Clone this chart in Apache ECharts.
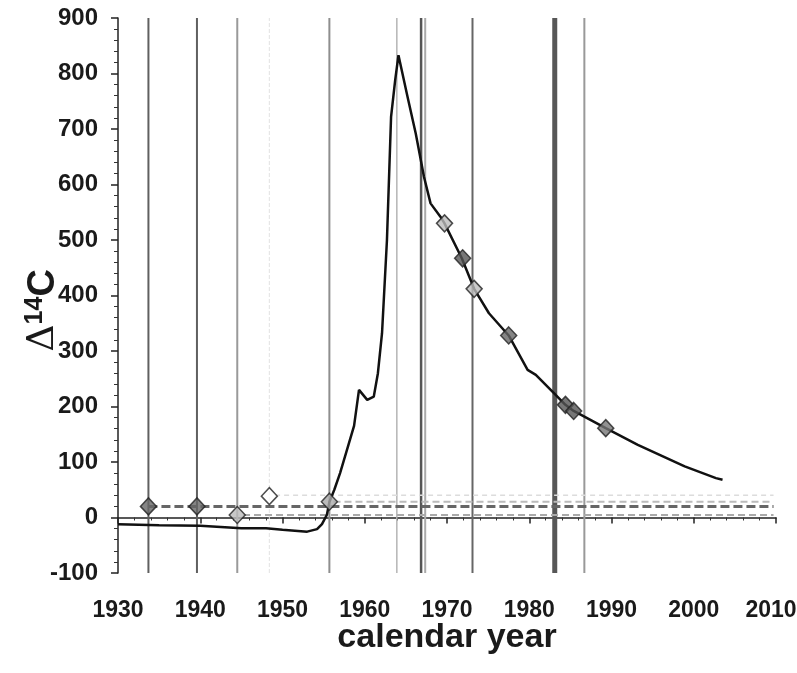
<!DOCTYPE html>
<html>
<head>
<meta charset="utf-8">
<script src="https://cdn.jsdelivr.net/npm/echarts@6/dist/echarts.min.js"></script>
<style>
html,body{margin:0;padding:0;background:#fff;}
#chart{width:797px;height:673px;}
</style>
</head>
<body>
<div id="chart"></div>
<script>
// ---- data ----
var curveYears = [1930, 1935, 1940, 1945, 1948, 1950, 1953, 1954.2, 1954.8, 1955.4, 1955.7, 1956.3, 1957.0, 1958.0, 1958.7, 1959.3, 1960.3, 1961.1, 1961.6, 1962.1, 1962.7, 1963.2, 1963.7, 1964.1, 1965.2, 1966.2, 1967.2, 1968.0, 1969.2, 1969.7, 1971.8, 1973.3, 1975.1, 1977.5, 1979.8, 1980.8, 1983.0, 1984.4, 1985.4, 1989.3, 1993.2, 1998.9, 2002.7, 2003.5];
var curveValues = [-12, -14, -15, -19.5, -19.5, -22, -25.5, -21, -12, 5, 28, 50, 80, 130, 165, 230, 212, 218, 260, 332, 500, 722, 788, 833, 758, 692, 614, 566, 542, 530, 467, 412, 368, 328, 266, 257, 224, 203, 192, 161, 131, 92, 71, 68];

var pointYears = [1933.7, 1939.6, 1944.5, 1948.4, 1955.7, 1969.7, 1971.9, 1973.3, 1977.5, 1984.4, 1985.4, 1989.3];
var pointValues = [20, 20, 4.5, 38.5, 28.5, 530, 467, 412, 328, 203, 192, 161];

var vlineYears = [1933.7, 1939.6, 1944.5, 1948.4, 1955.7, 1963.9, 1966.85, 1967.35, 1973.1, 1983.1, 1986.7];

var hlineStart = [1933.7, 1945.2, 1949.1, 1956.2];
var hlineValues = [20, 4.5, 40, 28.5];
var hlineEnd = 2009.7;

var xTicks = [1930, 1940, 1950, 1960, 1970, 1980, 1990, 2000, 2010];
var yTicks = [-100, 0, 100, 200, 300, 400, 500, 600, 700, 800, 900];

// ---- styles (kept separate from data) ----
var pointColors = ['#666', '#666', '#bbb', '#fff', '#aaa', '#bbb', '#555', '#bbb', '#666', '#555', '#555', '#777'];
var vlineColors = ['#606060', '#606060', '#9a9a9a', '#e2e2e2', '#8e8e8e', '#b5b5b5', '#555', '#aaa', '#666', '#575757', '#999'];
var vlineWidths = [2, 2, 2, 1, 2, 1.5, 2.5, 2, 2, 5, 2];
var vlineTypes = ['solid', 'solid', 'solid', 'dashed', 'solid', 'solid', 'solid', 'solid', 'solid', 'solid', 'solid'];
var hlineColors = ['#666', '#aaa', '#dcdcdc', '#bbb'];
var hlineWidths = [3, 2, 1.5, 2];
var hlineDash = [[9, 4], [7, 4], [5, 4], [7, 4]];

var FONT = 'Liberation Sans, Arial, sans-serif';
var xMin = xTicks[0], xMax = xTicks[xTicks.length - 1];
var yMin = yTicks[0], yMax = yTicks[yTicks.length - 1];

var series = [];

vlineYears.forEach(function (x, i) {
  series.push({
    type: 'line', silent: true, symbol: 'none', z: 1,
    data: [[x, yMin], [x, yMax]],
    lineStyle: { color: vlineColors[i], width: vlineWidths[i], type: vlineTypes[i] }
  });
});

hlineValues.forEach(function (v, i) {
  series.push({
    type: 'line', silent: true, symbol: 'none', z: 2,
    data: [[hlineStart[i], v], [hlineEnd, v]],
    lineStyle: { color: hlineColors[i], width: hlineWidths[i], type: hlineDash[i] }
  });
});

series.push({
  type: 'line', silent: true, symbol: 'none', z: 3,
  data: curveYears.map(function (x, i) { return [x, curveValues[i]]; }),
  lineStyle: { color: '#111', width: 2.5 }
});

series.push({
  type: 'scatter', silent: true, z: 4,
  symbol: 'diamond', symbolSize: [16, 17],
  data: pointYears.map(function (x, i) {
    return { value: [x, pointValues[i]], itemStyle: { color: pointColors[i], borderColor: '#222', borderWidth: 1.5 } };
  })
});

var chart = echarts.init(document.getElementById('chart'));
chart.setOption({
  animation: false,
  backgroundColor: '#fff',
  grid: { left: 118, right: 21, top: 18, bottom: 100, containLabel: false, outerBoundsMode: 'none' },
  xAxis: {
    type: 'value', min: xMin, max: xMax, interval: 10,
    name: 'calendar year', nameLocation: 'middle', nameGap: 48, nameMoveOverlap: false,
    nameTextStyle: { fontFamily: FONT, fontWeight: 'bold', fontSize: 34, color: '#1a1a1a' },
    axisLine: { show: true, lineStyle: { color: '#222', width: 1.5 } },
    axisTick: { show: true, length: 6, lineStyle: { color: '#222', width: 1.5 } },
    minorTick: { show: true, splitNumber: 5, length: 3, lineStyle: { color: '#333', width: 1 } },
    splitLine: { show: false },
    axisLabel: { margin: 26, fontFamily: FONT, fontWeight: 'bold', fontSize: 23, color: '#1a1a1a',
      formatter: function (v) { return v === xMax ? '{last|' + v + '}' : String(v); },
      rich: { last: { fontFamily: FONT, fontWeight: 'bold', fontSize: 23, color: '#1a1a1a', padding: [0, 10, 0, 0] } } }
  },
  yAxis: {
    type: 'value', min: yMin, max: yMax, interval: 100,
    name: '{d|Δ}{s|14}{c|C}', nameLocation: 'middle', nameGap: 54, nameRotate: 90, nameMoveOverlap: false,
    nameTextStyle: {
      padding: [0, 30, 0, 0],
      rich: {
        d: { fontFamily: 'DejaVu Serif, serif', fontSize: 38, color: '#1a1a1a' },
        s: { fontFamily: FONT, fontWeight: 'bold', fontSize: 25, color: '#1a1a1a', verticalAlign: 'top', padding: [0, 0, 16, 0] },
        c: { fontFamily: FONT, fontWeight: 'bold', fontSize: 38, color: '#1a1a1a' }
      }
    },
    axisLine: { show: true, lineStyle: { color: '#222', width: 1.5 } },
    axisTick: { show: true, length: 7, lineStyle: { color: '#222', width: 1.5 } },
    minorTick: { show: true, splitNumber: 5, length: 4, lineStyle: { color: '#333', width: 1 } },
    splitLine: { show: false },
    axisLabel: { margin: 20, fontFamily: FONT, fontWeight: 'bold', fontSize: 24, color: '#1a1a1a',
      formatter: function (v) { return String(v); } }
  },
  series: series
});
</script>
</body>
</html>
